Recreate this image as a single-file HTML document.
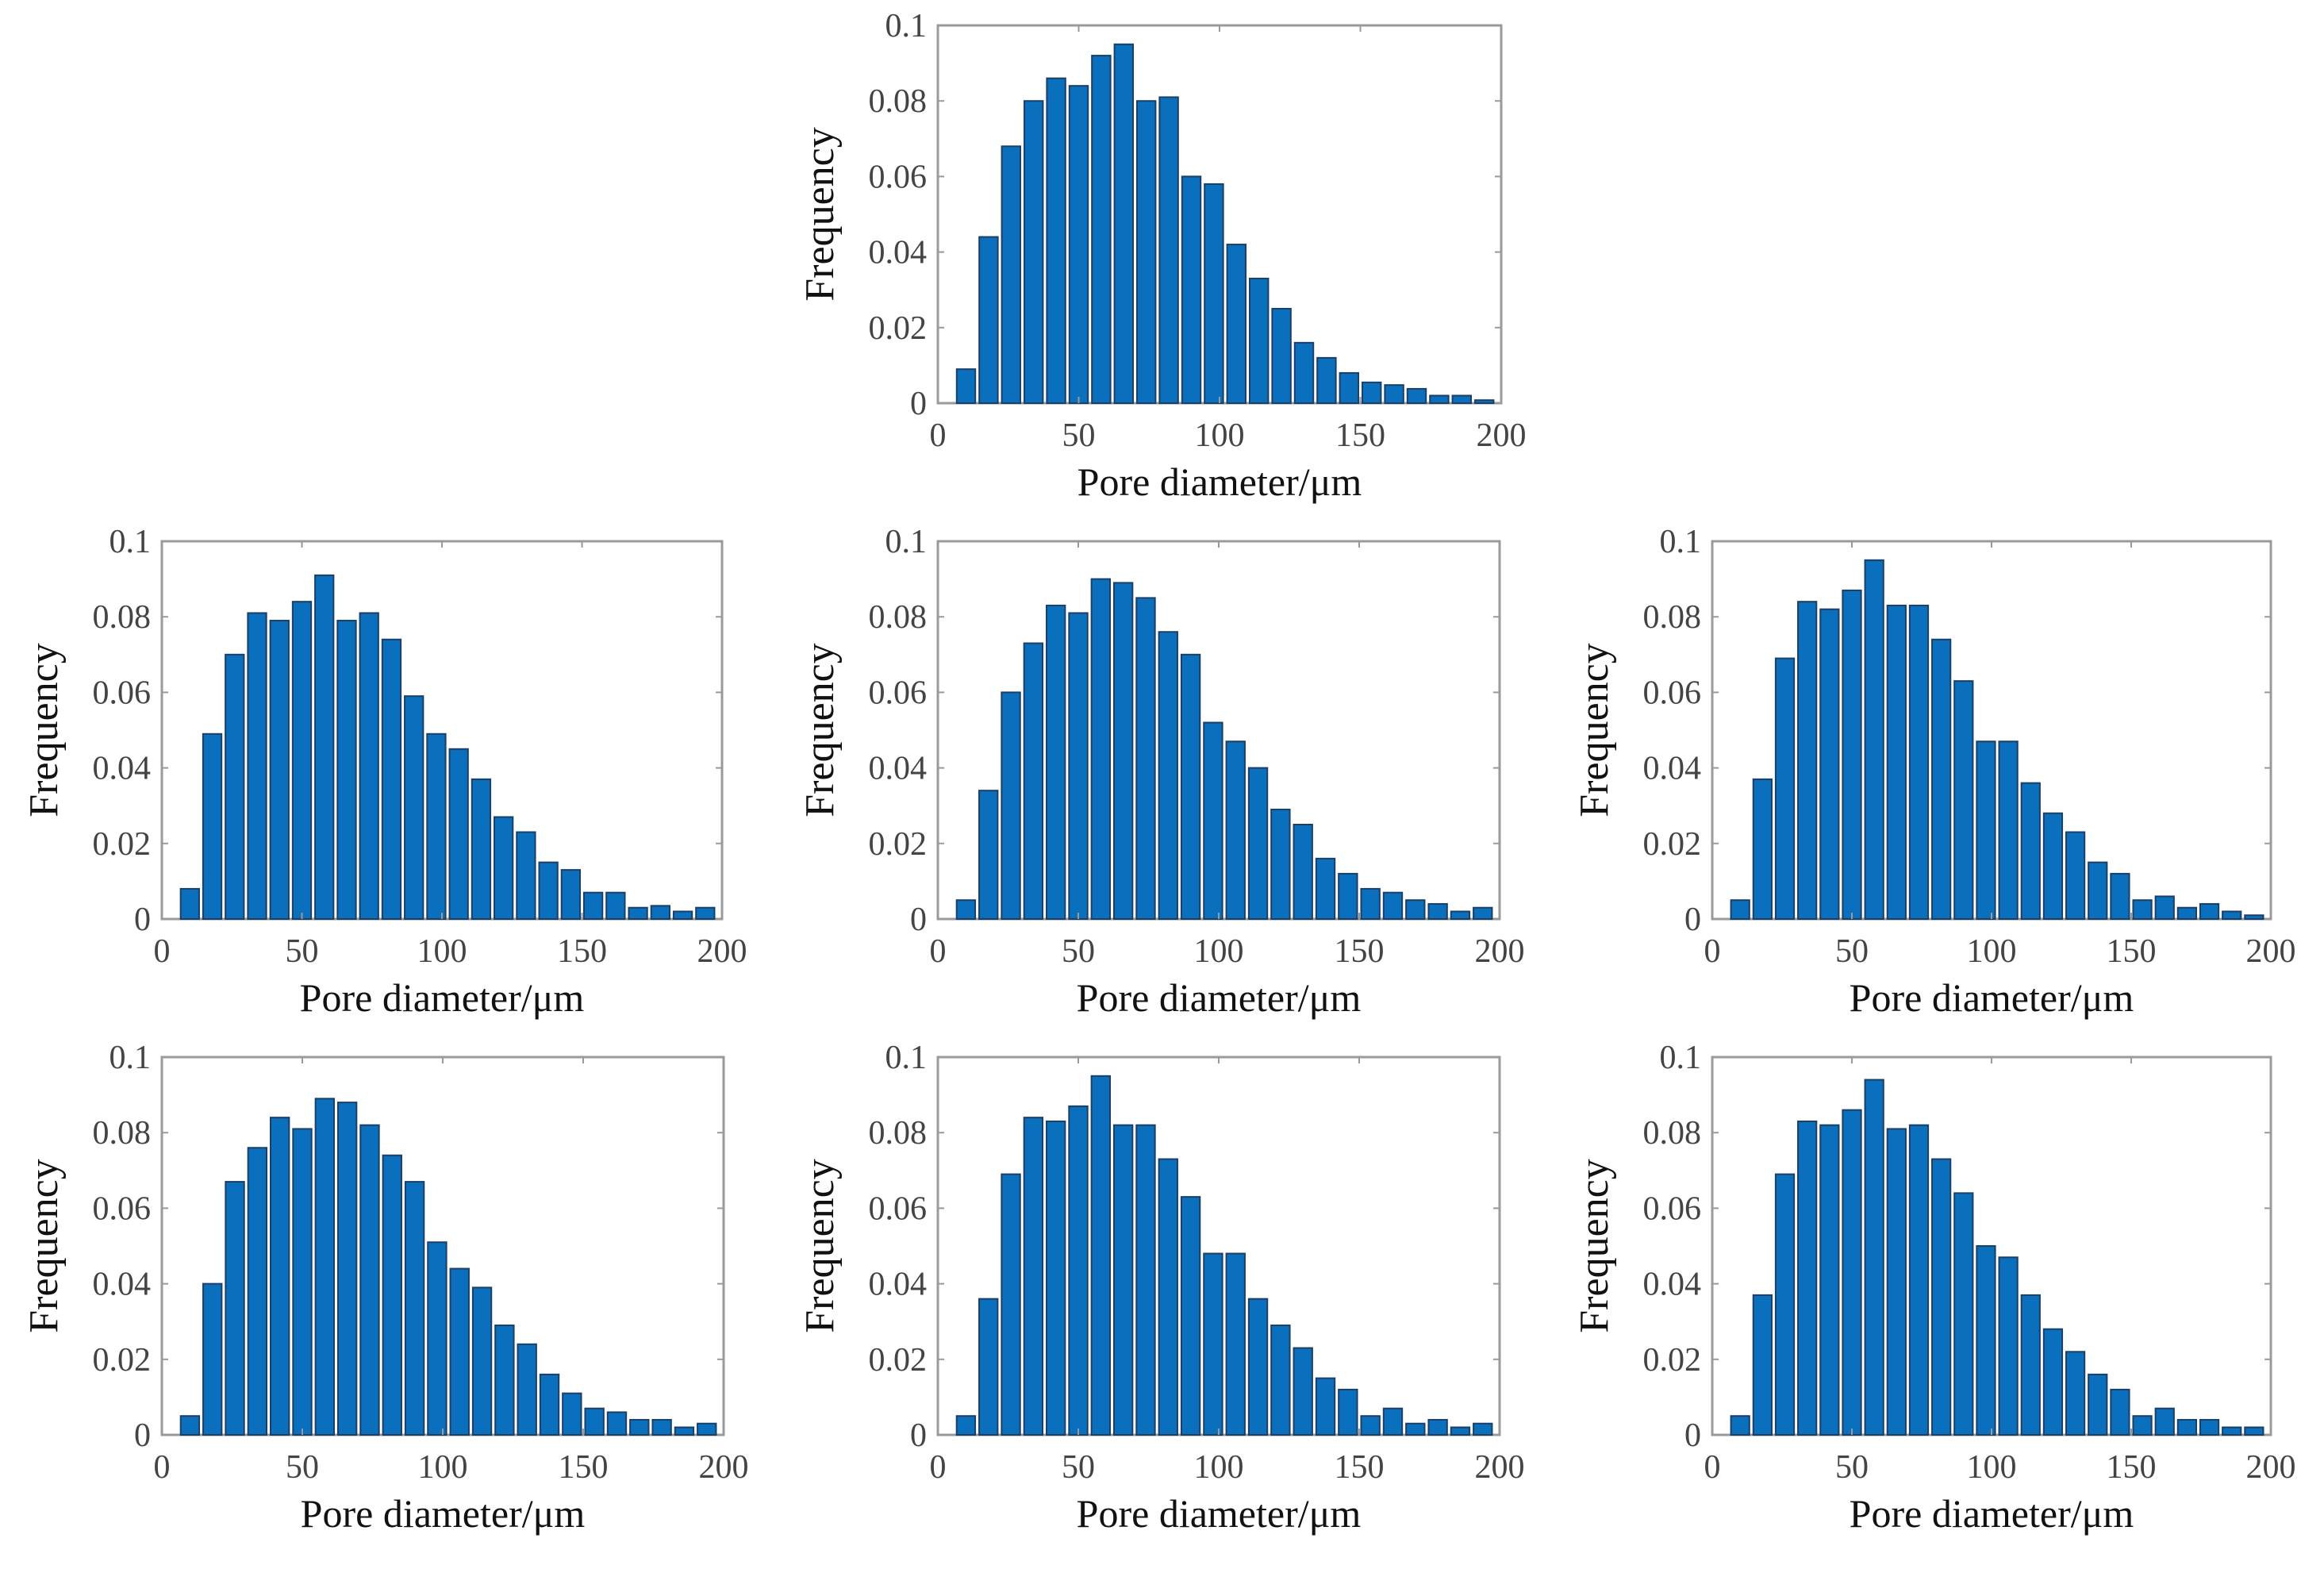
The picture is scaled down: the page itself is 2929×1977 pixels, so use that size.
<!DOCTYPE html>
<html><head><meta charset="utf-8"><style>
html,body{margin:0;padding:0;background:#fff;}
svg{display:block;}
text{font-family:"Liberation Serif",serif;}
</style></head><body>
<svg id="fig" width="2929" height="1977" viewBox="0 0 2929 1977" xmlns="http://www.w3.org/2000/svg"></svg>
<script>
const binCenters = [10,18,26,34,42,50,58,66,74,82,90,98,106,114,122,130,138,146,154,162,170,178,186,194];
const xTicks = [0,50,100,150,200];
const yTicks = [0,0.02,0.04,0.06,0.08,0.1];
const yTickLabels = ["0","0.02","0.04","0.06","0.08","0.1"];
const freqTop = [0.009,0.044,0.068,0.080,0.086,0.084,0.092,0.095,0.080,0.081,0.060,0.058,0.042,0.033,0.025,0.016,0.012,0.008,0.0055,0.0048,0.0038,0.002,0.002,0.0008];
const freqMidLeft = [0.008,0.049,0.070,0.081,0.079,0.084,0.091,0.079,0.081,0.074,0.059,0.049,0.045,0.037,0.027,0.023,0.015,0.013,0.007,0.007,0.003,0.0035,0.002,0.003];
const freqMidCenter = [0.005,0.034,0.060,0.073,0.083,0.081,0.090,0.089,0.085,0.076,0.070,0.052,0.047,0.040,0.029,0.025,0.016,0.012,0.008,0.007,0.005,0.004,0.002,0.003];
const freqMidRight = [0.005,0.037,0.069,0.084,0.082,0.087,0.095,0.083,0.083,0.074,0.063,0.047,0.047,0.036,0.028,0.023,0.015,0.012,0.005,0.006,0.003,0.004,0.002,0.001];
const freqBotLeft = [0.005,0.040,0.067,0.076,0.084,0.081,0.089,0.088,0.082,0.074,0.067,0.051,0.044,0.039,0.029,0.024,0.016,0.011,0.007,0.006,0.004,0.004,0.002,0.003];
const freqBotCenter = [0.005,0.036,0.069,0.084,0.083,0.087,0.095,0.082,0.082,0.073,0.063,0.048,0.048,0.036,0.029,0.023,0.015,0.012,0.005,0.007,0.003,0.004,0.002,0.003];
const freqBotRight = [0.005,0.037,0.069,0.083,0.082,0.086,0.094,0.081,0.082,0.073,0.064,0.050,0.047,0.037,0.028,0.022,0.016,0.012,0.005,0.007,0.004,0.004,0.002,0.002];

const NS = "http://www.w3.org/2000/svg";
const svg = document.getElementById('fig');
function mk(tag, attrs, parent){
  const e = document.createElementNS(NS, tag);
  for (const k in attrs) e.setAttribute(k, attrs[k]);
  parent.appendChild(e);
  return e;
}
const panels = [
  {id:'top', x0:1182, x1:1892, y0:32, y1:508, data:freqTop},
  {id:'mid-left', x0:204, x1:910, y0:682, y1:1158, data:freqMidLeft},
  {id:'mid-center', x0:1182, x1:1890, y0:682, y1:1158, data:freqMidCenter},
  {id:'mid-right', x0:2158, x1:2862, y0:682, y1:1158, data:freqMidRight},
  {id:'bot-left', x0:204, x1:912, y0:1332, y1:1808, data:freqBotLeft},
  {id:'bot-center', x0:1182, x1:1890, y0:1332, y1:1808, data:freqBotCenter},
  {id:'bot-right', x0:2158, x1:2862, y0:1332, y1:1808, data:freqBotRight}
];
panels.forEach(p => {
  const g = mk('g', {}, svg);
  
  
  const xs = v => p.x0 + (v/200)*(p.x1-p.x0);
  const ys = v => p.y1 - (v/0.1)*(p.y1-p.y0);
  const box = mk('rect', {x:p.x0, y:p.y0, width:p.x1-p.x0, height:p.y1-p.y0, fill:'none', stroke:'#9a9a9a', 'stroke-width':3}, g);
  
  
  const bw = 6.6;
  p.data.forEach((v,i) => {
    const c = binCenters[i];
    const r = mk('rect', {x:xs(c-bw/2), y:ys(v), width:xs(c+bw/2)-xs(c-bw/2), height:p.y1-ys(v), fill:'#0a6fbd', stroke:'#1c3f66', 'stroke-width':2}, g);
    
    
  });
  xTicks.forEach(t => {
    mk('line', {x1:xs(t), x2:xs(t), y1:p.y1, y2:p.y1-8, stroke:'#9a9a9a', 'stroke-width':2}, g);
    mk('line', {x1:xs(t), x2:xs(t), y1:p.y0, y2:p.y0+8, stroke:'#9a9a9a', 'stroke-width':2}, g);
    const tx = mk('text', {x:xs(t), y:p.y1+54, 'font-size':42, fill:'#444', 'text-anchor':'middle'}, g);
    tx.textContent = String(t);
    
    
  });
  yTicks.forEach((t,i) => {
    mk('line', {x1:p.x0, x2:p.x0+8, y1:ys(t), y2:ys(t), stroke:'#9a9a9a', 'stroke-width':2}, g);
    mk('line', {x1:p.x1, x2:p.x1-8, y1:ys(t), y2:ys(t), stroke:'#9a9a9a', 'stroke-width':2}, g);
    const ty = mk('text', {x:p.x0-14, y:ys(t)+14, 'font-size':42, fill:'#444', 'text-anchor':'end'}, g);
    ty.textContent = yTickLabels[i];
    
    
  });
  const xl = mk('text', {x:(p.x0+p.x1)/2, y:p.y1+116, 'font-size':50, fill:'#111', 'text-anchor':'middle'}, g);
  xl.textContent = 'Pore diameter/μm';
  
  
  const cy = (p.y0+p.y1)/2;
  const yl = mk('text', {x:p.x0-132, y:cy, 'font-size':52, fill:'#111', 'text-anchor':'middle', transform:'rotate(-90 '+(p.x0-132)+' '+cy+')'}, g);
  yl.textContent = 'Frequency';
  
  
});
</script>
</body></html>
